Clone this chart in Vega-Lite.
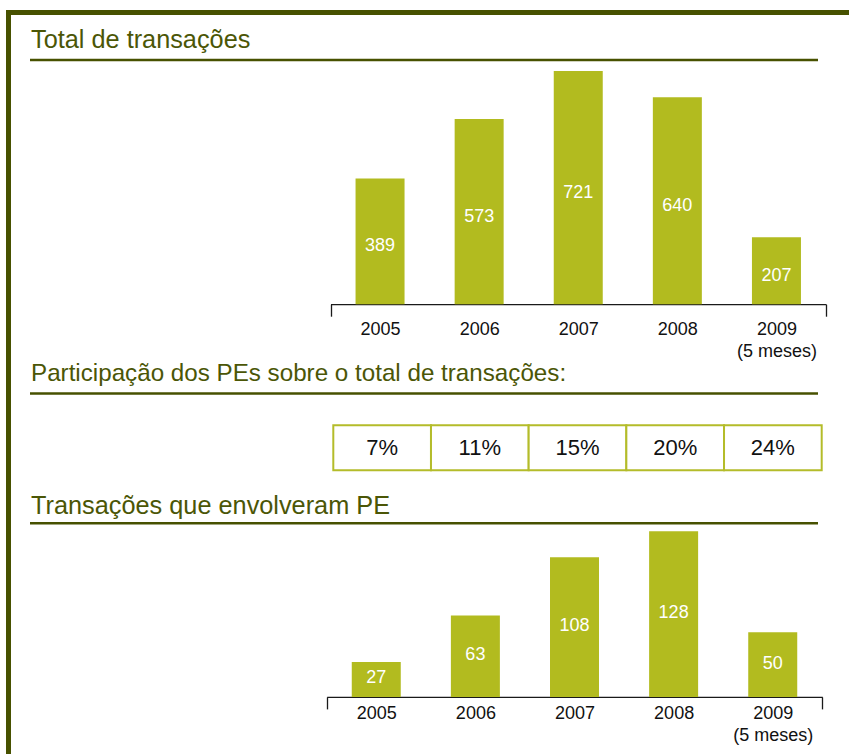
{
  "$schema": "https://vega.github.io/schema/vega-lite/v6.json",
  "background": "white",
  "padding": {"left": 6, "top": 10, "right": 0, "bottom": 0},
  "config": {
    "font": "Liberation Sans",
    "view": {"stroke": null},
    "title": {"anchor": "start", "fontSize": 25, "fontWeight": "normal", "color": "#4b5606", "baseline": "bottom", "dx": 1},
    "axisX": {"domainColor": "#1a1a1a", "domainWidth": 1.3, "tickColor": "#1a1a1a", "tickWidth": 1.3, "tickSize": 12, "labelFontSize": 18, "labelColor": "#111111", "grid": false, "labelOverlap": false, "labelFlush": false, "labelBound": false}
  },
  "datasets": {
    "total": [
      {"year": 2005, "n": 389},
      {"year": 2006, "n": 573},
      {"year": 2007, "n": 721},
      {"year": 2008, "n": 640},
      {"year": 2009, "n": 207}
    ],
    "share": [
      {"year": 2005, "p": 0.07},
      {"year": 2006, "p": 0.11},
      {"year": 2007, "p": 0.15},
      {"year": 2008, "p": 0.20},
      {"year": 2009, "p": 0.24}
    ],
    "pe": [
      {"year": 2005, "n": 27},
      {"year": 2006, "n": 63},
      {"year": 2007, "n": 108},
      {"year": 2008, "n": 128},
      {"year": 2009, "n": 50}
    ]
  },
  "spacing": 0,
  "hconcat": [
    {"width": 5, "height": 744, "view": {"fill": "#475100", "stroke": null}, "data": {"values": []}, "mark": "rule", "encoding": {}},
    {
      "spacing": 12.7,
      "vconcat": [
        {"width": 838, "height": 5, "view": {"fill": "#475100", "stroke": null}, "data": {"values": []}, "mark": "rule", "encoding": {}},
        {
          "spacing": 18,
          "hconcat": [
            {"width": 1, "height": 1, "data": {"values": []}, "mark": "rule", "encoding": {}},
            {
              "spacing": 0.5,
              "vconcat": [
                {
                  "spacing": 0,
                  "vconcat": [
                    {"title": {"text": "Total de transações", "offset": 5, "fontSize": 25.3}, "width": 788, "height": 2.5, "view": {"fill": "#475100", "stroke": null}, "data": {"values": []}, "mark": "rule", "encoding": {}},
                    {
                      "width": 788, "height": 242.5,
                      "data": {"name": "total"},
                      "resolve": {"scale": {"y": "independent"}},
                      "layer": [
                        {
                          "mark": {"type": "bar", "width": 49, "color": "#b2bb1f"},
                          "encoding": {
                            "x": {"field": "year", "type": "quantitative", "scale": {"domain": [2004.5, 2009.5], "range": [300.5, 796], "padding": 0, "nice": false, "zero": false},
                              "axis": {"title": null, "values": [2004.5, 2005, 2006, 2007, 2008, 2009, 2009.5], "labelPadding": 4.5, "labelLineHeight": 22,
                                "tickOpacity": {"condition": {"test": "datum.value == 2004.5 || datum.value == 2009.5", "value": 1}, "value": 0},
                                "labelExpr": "datum.value == 2009 ? ['2009', '(5 meses)'] : (datum.value % 1 == 0 ? format(datum.value, 'd') : '')"}},
                            "y": {"field": "n", "type": "quantitative", "scale": {"domain": [0, 750], "nice": false}, "axis": null}
                          }
                        },
                        {
                          "mark": {"type": "text", "color": "white", "fontSize": 18, "baseline": "middle", "dy": 5},
                          "encoding": {
                            "x": {"field": "year", "type": "quantitative", "axis": {"title": null}},
                            "y": {"field": "n", "type": "quantitative", "scale": {"domain": [0, 1500], "nice": false}, "axis": null},
                            "text": {"field": "n"}
                          }
                        }
                      ]
                    }
                  ]
                },
                {
                  "spacing": 21.7,
                  "vconcat": [
                    {
                      "spacing": 29,
                      "vconcat": [
                        {"title": {"text": "Participação dos PEs sobre o total de transações:", "offset": 6, "fontSize": 24.2}, "width": 788, "height": 2.5, "view": {"fill": "#475100", "stroke": null}, "data": {"values": []}, "mark": "rule", "encoding": {}},
                        {
                          "width": 788, "height": 45,
                          "data": {"name": "share"},
                          "layer": [
                            {
                              "mark": {"type": "rect", "fill": "white", "stroke": "#b4bc2a", "strokeWidth": 2},
                              "encoding": {
                                "x": {"field": "year", "type": "ordinal", "scale": {"range": [303.3, 791.7], "paddingInner": 0, "paddingOuter": 0}, "axis": null}
                              }
                            },
                            {
                              "mark": {"type": "text", "fontSize": 22, "color": "#111111", "baseline": "middle"},
                              "encoding": {
                                "x": {"field": "year", "type": "ordinal", "axis": null},
                                "text": {"field": "p", "format": ".0%"}
                              }
                            }
                          ]
                        }
                      ]
                    },
                    {
                      "spacing": 0,
                      "vconcat": [
                        {"title": {"text": "Transações que envolveram PE", "offset": 3, "fontSize": 25.3}, "width": 788, "height": 2.5, "view": {"fill": "#475100", "stroke": null}, "data": {"values": []}, "mark": "rule", "encoding": {}},
                        {
                          "width": 788, "height": 172,
                          "data": {"name": "pe"},
                          "resolve": {"scale": {"y": "independent"}},
                          "layer": [
                            {
                              "mark": {"type": "bar", "width": 49, "color": "#b2bb1f"},
                              "encoding": {
                                "x": {"field": "year", "type": "quantitative", "scale": {"domain": [2004.5, 2009.5], "range": [296.7, 792.3], "padding": 0, "nice": false, "zero": false},
                                  "axis": {"title": null, "values": [2004.5, 2005, 2006, 2007, 2008, 2009, 2009.5], "labelPadding": -4.7, "labelLineHeight": 22,
                                    "tickOpacity": {"condition": {"test": "datum.value == 2004.5 || datum.value == 2009.5", "value": 1}, "value": 0},
                                    "labelExpr": "datum.value == 2009 ? ['2009', '(5 meses)'] : (datum.value % 1 == 0 ? format(datum.value, 'd') : '')"}},
                                "y": {"field": "n", "type": "quantitative", "scale": {"domain": [0, 133], "nice": false}, "axis": null}
                              }
                            },
                            {
                              "mark": {"type": "text", "color": "white", "fontSize": 18, "baseline": "middle", "dy": -1},
                              "encoding": {
                                "x": {"field": "year", "type": "quantitative", "axis": {"title": null}},
                                "y": {"field": "n", "type": "quantitative", "scale": {"domain": [0, 266], "nice": false}, "axis": null},
                                "text": {"field": "n"}
                              }
                            }
                          ]
                        }
                      ]
                    }
                  ]
                }
              ]
            }
          ]
        }
      ]
    }
  ]
}
